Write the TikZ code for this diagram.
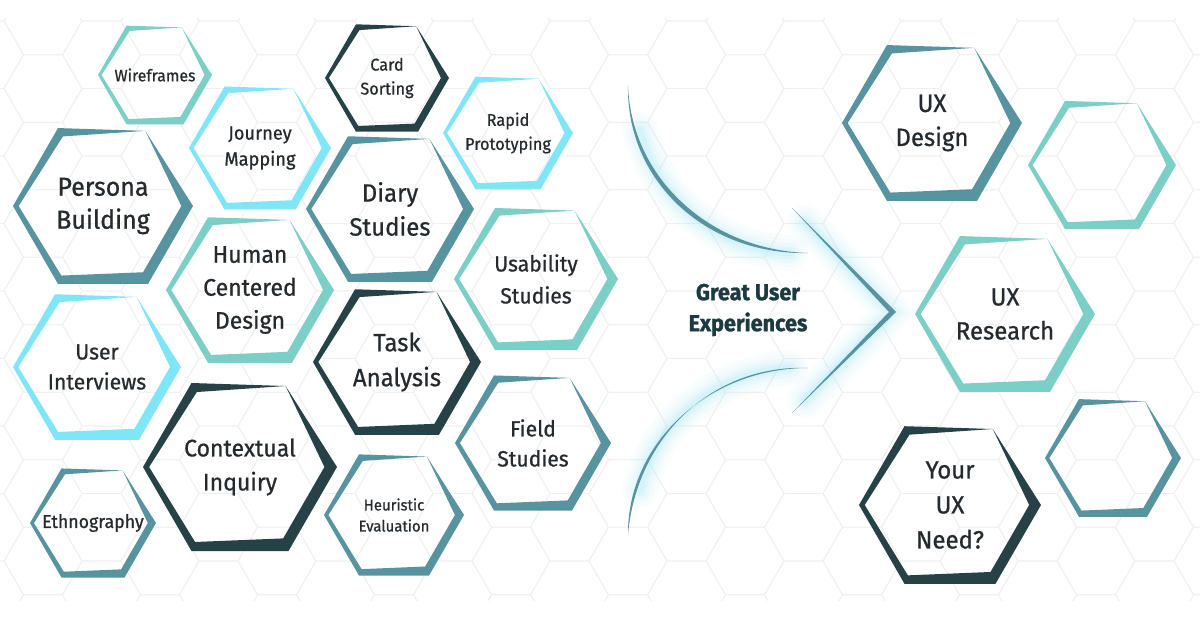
\documentclass[tikz,border=0pt]{standalone}
\usepackage{fontspec}
\setmainfont{Fira Sans}
\newfontfamily\hexfont{Fira Sans}[FakeBold=0.7, FakeStretch=0.96]
\newfontfamily\headfont{Fira Sans}[BoldFeatures={FakeBold=1.2, FakeStretch=0.94}]
\definecolor{cDark}{RGB}{38,66,71}
\definecolor{cMid}{RGB}{88,148,160}
\definecolor{cMint}{RGB}{123,207,198}
\definecolor{cCyan}{RGB}{128,230,247}
\definecolor{cText}{RGB}{36,42,46}
\definecolor{cGrid}{RGB}{240,240,240}
\definecolor{cGlow}{RGB}{160,232,248}
\definecolor{cHead}{RGB}{28,58,64}
\tikzset{
  hexlabel/.style={align=center, text=cText, inner sep=0pt},
  gridline/.style={draw=cGrid, line width=0.8pt},
  headlabel/.style={align=center, text=cHead, inner sep=0pt, font=\headfont\bfseries\fontsize{23}{31}\selectfont},
  swoosh/.style={fill=cMid},
}
\newcommand\hexband[8]{%
  \fill[#5, even odd rule]
    ({#2+#4},{#3}) -- ({#2+0.5*#4},{#3+0.866*#4}) -- ({#2-0.5*#4},{#3+0.866*#4})
    -- ({#2-#4},{#3}) -- ({#2-0.5*#4},{#3-0.866*#4}) -- ({#2+0.47*#4},{#3-0.835*#4}) -- cycle
    ({#2+0.87*#4},{#3}) -- ({#2+0.445*#4},{#3+0.736*#4}) -- ({#2-0.463*#4},{#3+0.773*#4})
    -- ({#2-0.937*#4},{#3}) -- ({#2-0.445*#4},{#3-0.773*#4}) -- ({#2+0.47*#4},{#3-0.835*#4}) -- cycle;
  \node[hexlabel, font={\hexfont\fontsize{#6}{#7}\selectfont}] (#1) at (#2,#3) {#8};
}
\begin{document}
\begin{tikzpicture}[x=1pt,y=-1pt]
\fill[white] (0,0) rectangle (1200,630);
\useasboundingbox (0,0) rectangle (1200,630);
% background honeycomb
\begin{scope}
\clip (0,18) rectangle (1200,600);
\foreach \i in {-1,...,20}{
  \foreach \k in {-2,...,9}{
    \pgfmathsetmacro\gx{43+58.5*\i}
    \pgfmathsetmacro\gy{88.5+67.5*\k+33.75*mod(\i+100,2)}
    \draw[gridline] ({\gx+39},\gy) -- ({\gx+19.5},{\gy+33.75}) -- ({\gx-19.5},{\gy+33.75})
      -- ({\gx-39},\gy) -- ({\gx-19.5},{\gy-33.75}) -- ({\gx+19.5},{\gy-33.75}) -- cycle;
  }
}
\end{scope}
% glow
\foreach \w/\o in {36/0.05,28/0.07,20/0.09,13/0.12,7/0.18}{
  \draw[cGlow, line width=\w, opacity=\o, line cap=round]
    (640,130) .. controls (655,200) and (720,250) .. (790,253);
  \draw[cGlow, line width=\w, opacity=\o, line cap=round]
    (790,368) .. controls (720,372) and (655,420) .. (640,490);
  \draw[cGlow, line width=\w, opacity=\o, line cap=round]
    (805,222) -- (892,312) -- (805,400);
}
% swooshes
\fill[swoosh] (628,85) .. controls (626,180) and (705,255) .. (808,253)
  .. controls (710,250) and (631,178) .. (628,85) -- cycle;
\fill[swoosh] (808,368) .. controls (709,368) and (627,443) .. (628,535)
  .. controls (636,438) and (712,364) .. (808,368) -- cycle;
\fill[swoosh] (792,208) -- (896,312) -- (792,413) -- (889,312) -- cycle;
\node[headlabel] (great) at (748,310) {Great User\\Experiences};
% hexagons
\hexband{wire}{155}{75}{57}{cMint}{16.5}{21}{Wireframes}
\hexband{journey}{260}{148}{71}{cCyan}{19}{26}{Journey\\Mapping}
\hexband{persona}{103}{206}{90}{cMid}{26}{33}{Persona\\Building}
\hexband{human}{250}{290}{84}{cMint}{24}{33}{Human\\Centered\\Design}
\hexband{user}{97}{367}{84}{cCyan}{22}{30}{User\\Interviews}
\hexband{ethno}{93}{523}{63}{cMid}{18.5}{22}{Ethnography}
\hexband{context}{240}{467}{97}{cDark}{24}{34}{Contextual\\Inquiry}
\hexband{card}{387}{78}{62}{cDark}{17}{24}{Card\\Sorting}
\hexband{rapid}{508}{133}{65}{cCyan}{17}{24}{Rapid\\Prototyping}
\hexband{diary}{390}{209}{84}{cMid}{25}{34}{Diary\\Studies}
\hexband{usab}{536}{279}{82}{cMint}{22}{32}{Usability\\Studies}
\hexband{task}{397}{362}{84}{cDark}{25}{35}{Task\\Analysis}
\hexband{field}{533}{443}{78}{cMid}{22}{30}{Field\\Studies}
\hexband{heur}{394}{515}{70}{cMid}{15.5}{21}{Heuristic\\Evaluation}
\hexband{uxd}{932}{123}{90}{cMid}{25}{34}{UX\\Design}
\hexband{emptyA}{1102}{165}{74}{cMint}{10}{12}{}
\hexband{uxr}{1005}{314}{90}{cMint}{25}{34}{UX\\Research}
\hexband{need}{950}{505}{91}{cDark}{25}{35}{Your\\UX\\Need?}
\hexband{emptyB}{1113}{458}{68}{cMid}{10}{12}{}
\end{tikzpicture}
\end{document}
